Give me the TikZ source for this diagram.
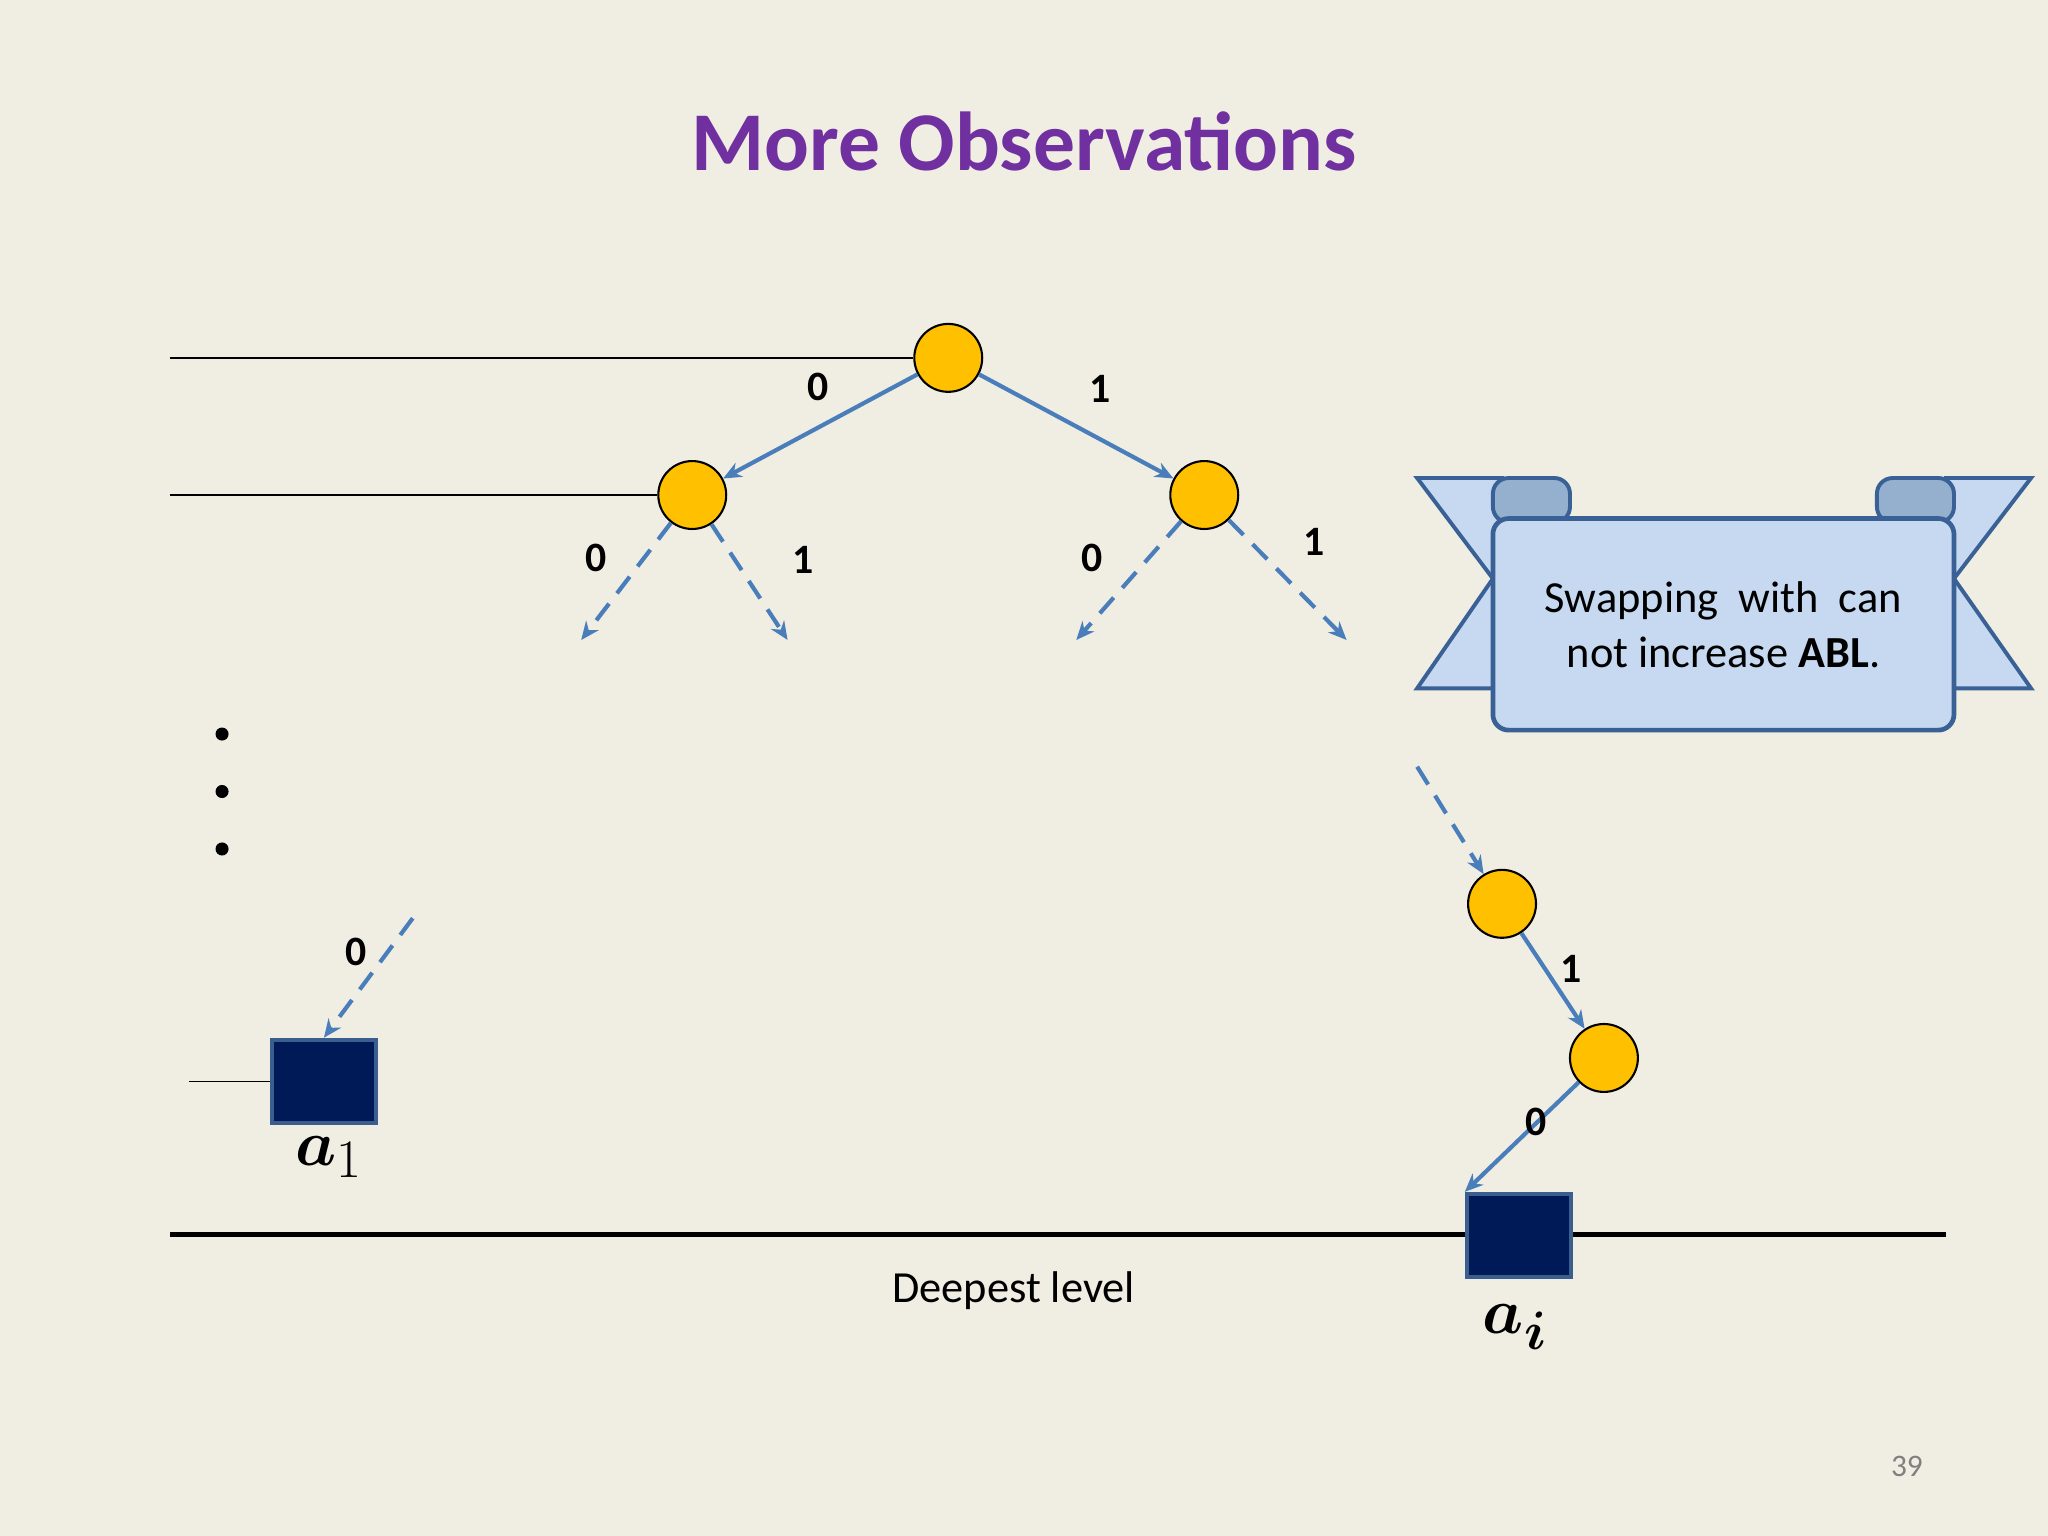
\documentclass[tikz,border=0pt]{standalone}
\usepackage{fontspec}
\usepackage{bm}
\setmainfont{Carlito}
\usetikzlibrary{arrows.meta}
\definecolor{bg}{HTML}{F0EDE3}
\definecolor{nodey}{HTML}{FFC000}
\definecolor{arr}{HTML}{4A7EBB}
\definecolor{navy}{HTML}{001A57}
\definecolor{sqb}{HTML}{3A5F8F}
\definecolor{ban}{HTML}{C6D9F1}
\definecolor{banb}{HTML}{3A6196}
\definecolor{curl}{HTML}{95AFCE}
\definecolor{ttl}{HTML}{7030A0}
\begin{document}
\begin{tikzpicture}[x=0.5pt,y=-0.5pt,
  tnode/.style={circle,draw=black,fill=nodey,minimum size=26pt,inner sep=0pt,line width=0.8pt},
  leaf/.style={draw=sqb,fill=navy,minimum width=40pt,minimum height=32pt,inner sep=0pt,line width=1.5pt},
  sarr/.style={draw=arr,line width=1.6pt,-{Stealth[length=7pt,width=6pt]}},
  darr/.style={sarr,dash pattern=on 8pt off 5pt},
  lbl/.style={font=\fontsize{16}{19}\selectfont\bfseries},
  hline/.style={draw=black,line width=0.6pt}]
\fill[bg] (0,0) rectangle (1568,1176);
\useasboundingbox (0,0) rectangle (1568,1176);
\node[font=\fontsize{32}{38}\selectfont\bfseries,text=ttl] (title) at (784,108) {More Observations};
\node[tnode] (r) at (726,274) {};
\node[tnode] (l) at (530,379) {};
\node[tnode] (rr) at (922,379) {};
\coordinate (h1) at (130,274); \coordinate (h2) at (130,379); \coordinate (h3) at (145,828);
\draw[hline] (h1) -- (r.west);
\draw[hline] (h2) -- (l.west);
\draw[sarr] (r) -- (l);
\draw[sarr] (r) -- (rr);
\coordinate (e1) at (445,490); \coordinate (e2) at (603,490);
\coordinate (e3) at (824,490); \coordinate (e4) at (1031,490);
\draw[darr] (l) -- (e1); \draw[darr] (l) -- (e2);
\draw[darr] (rr) -- (e3); \draw[darr] (rr) -- (e4);
\node[lbl] (t1) at (626,296) {0}; \node[lbl] (t2) at (842,298) {1};
\node[lbl] (t3) at (456,427) {0}; \node[lbl] (t4) at (615,429) {1};
\node[lbl] (t5) at (836,427) {0}; \node[lbl] (t6) at (1006,415) {1};
\foreach \y in {562,606,650} \fill (170,\y) circle (5);
\node[leaf] (a1) at (248,828) {};
\draw[hline] (h3) -- (a1.west);
\coordinate (s1) at (316,703);
\draw[darr] (s1) -- (a1.north);
\node[lbl] (t7) at (273,729) {0};
\node (a1l) at (252,886) {\fontsize{30}{30}\selectfont$\bm{a}_{\scriptstyle 1}$};
\coordinate (d1) at (130,945); \coordinate (d2) at (1490,945);
\draw[line width=2pt] (d1) -- (d2);
\node[leaf] (ai) at (1163,946) {};
\node (ail) at (1160,1016) {\fontsize{30}{30}\selectfont$\bm{a}_{\bm{i}}$};
\node[font=\fontsize{17}{20}\selectfont] (deep) at (776,988) {Deepest level};
\coordinate (s2) at (1085,587);
\node[tnode] (c1) at (1150,692) {};
\node[tnode] (c2) at (1228,810) {};
\draw[darr] (s2) -- (c1);
\draw[sarr] (c1) -- (c2);
\draw[sarr] (c2) -- (ai.north west);
\node[lbl] (t8) at (1203,742) {1};
\node[lbl] (t9) at (1176,859) {0};
% banner
\filldraw[fill=ban,draw=banb,line width=1.5pt] (1085,366) -- (1150,366) -- (1150,527) -- (1085,527) -- (1143,443) -- cycle;
\filldraw[fill=ban,draw=banb,line width=1.5pt] (1555,366) -- (1490,366) -- (1490,527) -- (1555,527) -- (1496,443) -- cycle;
\filldraw[fill=curl,draw=banb,line width=1.5pt,rounded corners=6pt] (1143,366) rectangle (1202,400);
\filldraw[fill=curl,draw=banb,line width=1.5pt,rounded corners=6pt] (1437,366) rectangle (1496,400);
\node[draw=banb,fill=ban,line width=1.8pt,rounded corners=6pt,minimum width=176.5pt,minimum height=81pt,inner sep=0pt,align=center,font=\fontsize{17}{21}\selectfont] (box) at (1319.5,478) {Swapping\ \ with\ \ can\\not increase \textbf{ABL}.};
\node[font=\fontsize{12}{14}\selectfont,text=gray] (pg) at (1460,1123) {39};
\end{tikzpicture}
\end{document}
